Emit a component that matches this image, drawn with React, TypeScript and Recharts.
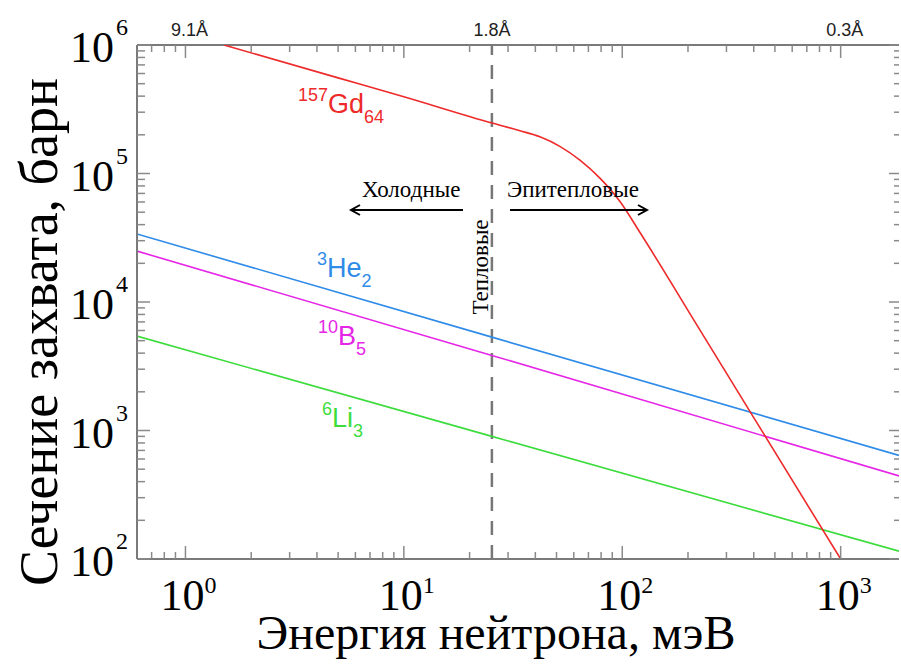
import React from 'react';
import { LineChart, Line, XAxis, YAxis, ReferenceLine } from 'recharts';

// energies (meV) and cross sections (barn)
const LINE_ENERGY = [0.6, 25.3, 1850];
const HE3 = [33800, 5330, 640];
const B10 = [24900, 3840, 443];
const LI6 = [5430, 900, 115];

const GD_ENERGY = [1.5, 5, 10, 25.3, 34, 42, 52, 64, 79, 98, 121, 227, 400, 1000];
const GD157 = [1000000, 555000, 395000, 247000, 215000, 193000, 162000, 127000, 92000, 60000, 34400, 6050, 1260, 100];

const X_TICKS = [0.7, 0.8, 0.9, 1, 2, 3, 4, 5, 6, 7, 8, 9, 10, 20, 30, 40, 50, 60, 70, 80, 90, 100, 200, 300, 400, 500, 600, 700, 800, 900, 1000];
const X_DECADES = [1, 10, 100, 1000];
const Y_TICKS = [100, 200, 300, 400, 500, 600, 700, 800, 900, 1000, 2000, 3000, 4000, 5000, 6000, 7000, 8000, 9000, 10000, 20000, 30000, 40000, 50000, 60000, 70000, 80000, 90000, 100000, 200000, 300000, 400000, 500000, 600000, 700000, 800000, 900000, 1000000];
const Y_DECADES = [100, 1000, 10000, 100000, 1000000];
const WAVELENGTH: Record<number, string> = { 1: '9.1Å', 1000: '0.3Å' };

const THERMAL = 25.3;

const toRows = (xs: number[], ys: number[]) => xs.map((e, i) => ({ e, s: ys[i] }));

const W = 901;
const H = 664;
const X_AXIS_H = 105;
const Y_AXIS_W = 137;
const M = { top: 45, right: 2, bottom: 0, left: 0 };
const TOP = M.top;
const BOTTOM = H - X_AXIS_H;
const LEFT = Y_AXIS_W;
const RIGHT = W - M.right;

const SERIF = '"Liberation Serif", "Times New Roman", serif';
const SANS = '"Liberation Sans", Arial, sans-serif';
const TICK = '#8a8a8a';

const XTick = (props: any) => {
    const { x, payload } = props;
    const v = payload.value;
    const major = X_DECADES.includes(v);
    const len = major ? 13 : 7;
    const exp = Math.round(Math.log10(v));
    return (
        <g>
            <line x1={x} x2={x} y1={BOTTOM} y2={BOTTOM - len} stroke={TICK} strokeWidth={1.5} />
            <line x1={x} x2={x} y1={TOP} y2={TOP + len} stroke={TICK} strokeWidth={1.5} />
            {major && (
                <text x={x - 25} y={610} fontFamily={SERIF} fontSize={44} fill="#000">
                    10<tspan fontSize={24} dy={-17}>{exp}</tspan>
                </text>
            )}
            {WAVELENGTH[v] && (
                <text x={x + 4} y={36} fontSize={18} fontFamily={SANS} fill="#222" textAnchor="middle">{WAVELENGTH[v]}</text>
            )}
        </g>
    );
};

const YTick = (props: any) => {
    const { y, payload } = props;
    const v = payload.value;
    const major = Y_DECADES.includes(v);
    const exp = Math.round(Math.log10(v));
    return (
        <g>
            <line x1={LEFT} x2={LEFT + (major ? 13 : 8)} y1={y} y2={y} stroke={TICK} strokeWidth={1.5} />
            <line x1={RIGHT} x2={RIGHT - (major ? 10 : 5)} y1={y} y2={y} stroke={TICK} strokeWidth={1.5} />
            {major && (
                <text x={70} y={y + 17} fontFamily={SERIF} fontSize={44} fill="#000">
                    10<tspan fontSize={24} dx={2} dy={-27}>{exp}</tspan>
                </text>
            )}
        </g>
    );
};

const Isotope = ({ x, y, mass, sym, z, color }: { x: number; y: number; mass: string; sym: string; z: string; color: string }) => (
    <text x={x} y={y} fill={color} fontFamily={SANS} fontSize={27}>
        <tspan fontSize={18} dy={-12}>{mass}</tspan>
        <tspan dy={12}>{sym}</tspan>
        <tspan fontSize={18} dy={10}>{z}</tspan>
    </text>
);

const Arrow = ({ x1, x2, y }: { x1: number; x2: number; y: number }) => {
    const d = x2 > x1 ? -1 : 1;
    return (
        <g stroke="#000" strokeWidth={2} fill="none">
            <line x1={x1} x2={x2} y1={y} y2={y} />
            <polyline points={`${x2 + d * 9},${y - 5} ${x2},${y} ${x2 + d * 9},${y + 5}`} />
        </g>
    );
};

export default function App() {
    return (
        <div style={{ position: 'absolute', left: 0, top: 0, width: W, height: H, background: '#fff' }}>
            <LineChart width={W} height={H} margin={M}>
                <XAxis
                    dataKey="e"
                    type="number"
                    scale="log"
                    domain={[0.6, 1850]}
                    allowDataOverflow
                    ticks={X_TICKS}
                    interval={0}
                    height={X_AXIS_H}
                    tickLine={false}
                    axisLine={{ stroke: '#7a7a7a', strokeWidth: 2 }}
                    tick={<XTick />}
                />
                <YAxis
                    type="number"
                    scale="log"
                    domain={[100, 1000000]}
                    allowDataOverflow
                    ticks={Y_TICKS}
                    interval={0}
                    width={Y_AXIS_W}
                    tickLine={false}
                    axisLine={{ stroke: '#7a7a7a', strokeWidth: 2 }}
                    tick={<YTick />}
                />
                <ReferenceLine y={1000000} stroke="#7a7a7a" strokeWidth={2} />
                <ReferenceLine
                    x={THERMAL}
                    stroke="#777"
                    strokeWidth={2.5}
                    strokeDasharray="14 10"
                    label={{ value: '1.8Å', position: 'top', offset: 9, fill: '#222', fontSize: 18, fontFamily: SANS }}
                />
                <Line data={toRows(LINE_ENERGY, HE3)} dataKey="s" stroke="#2f8be8" strokeWidth={1.6} dot={false} isAnimationActive={false} />
                <Line data={toRows(LINE_ENERGY, B10)} dataKey="s" stroke="#e626e6" strokeWidth={1.6} dot={false} isAnimationActive={false} />
                <Line data={toRows(LINE_ENERGY, LI6)} dataKey="s" stroke="#3ddc3d" strokeWidth={1.6} dot={false} isAnimationActive={false} />
                <Line data={toRows(GD_ENERGY, GD157)} dataKey="s" type="monotone" stroke="#ee2a2a" strokeWidth={1.6} dot={false} isAnimationActive={false} />
            </LineChart>

            <svg width={W} height={H} style={{ position: 'absolute', left: 0, top: 0, pointerEvents: 'none' }}>
                <Isotope x={298} y={113} mass="157" sym="Gd" z="64" color="#ee2a2a" />
                <Isotope x={317} y={277} mass="3" sym="He" z="2" color="#2f8be8" />
                <Isotope x={318} y={345} mass="10" sym="B" z="5" color="#e626e6" />
                <Isotope x={322} y={427} mass="6" sym="Li" z="3" color="#3ddc3d" />

                <g fontFamily={SERIF} fontSize={23} fill="#000">
                    <text x={362} y={197}>Холодные</text>
                    <text x={507} y={197}>Эпитепловые</text>
                    <text x={488} y={267} textAnchor="middle" transform="rotate(-90 488 267)">Тепловые</text>
                </g>
                <Arrow x1={463} x2={351} y={210} />
                <Arrow x1={510} x2={647} y={210} />

                <text x={496} y={649} textAnchor="middle" fontFamily={SERIF} fontSize={48} fill="#000">Энергия нейтрона, мэВ</text>
                <text x={57} y={332} textAnchor="middle" fontFamily={SERIF} fontSize={54} fill="#000" transform="rotate(-90 57 332)">Сечение захвата, барн</text>
            </svg>
        </div>
    );
}
